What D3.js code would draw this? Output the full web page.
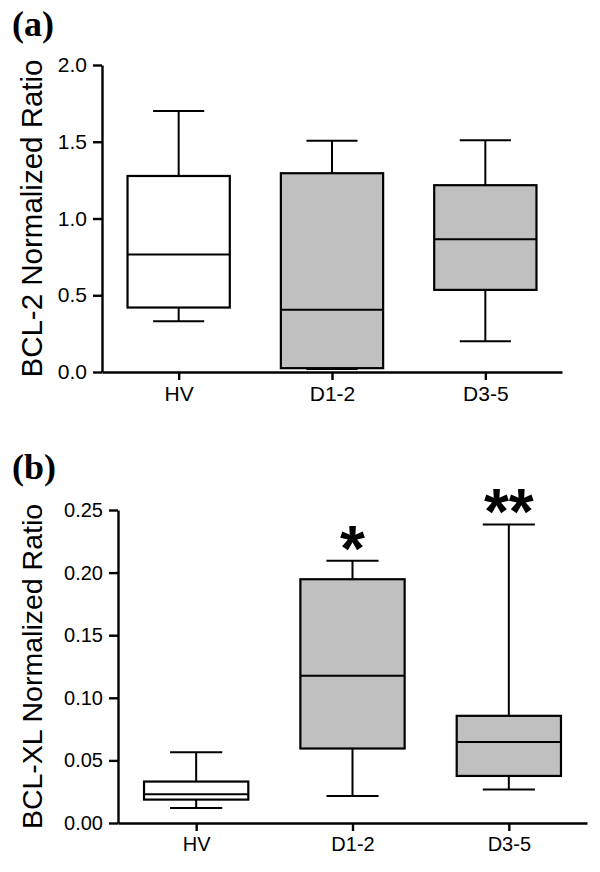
<!DOCTYPE html>
<html>
<head>
<meta charset="utf-8">
<script src="https://cdn.jsdelivr.net/npm/d3@7"></script>
<style>
  body { margin: 0; background: #fff; }
  svg text { font-family: "Liberation Sans", Arial, sans-serif; fill: #000; }
  .panel-label { font-family: "Liberation Serif", "Times New Roman", serif; font-weight: bold; }
</style>
</head>
<body>
<div id="chart-area"></div>
<script>
// groups on the x axis
var groups = ["HV", "D1-2", "D3-5"];
var boxFills = ["#ffffff", "#c0c0c0", "#c0c0c0"];

// panel (a) BCL-2
var bcl2Min    = [0.33, 0.02, 0.20];
var bcl2Q1     = [0.42, 0.025, 0.535];
var bcl2Median = [0.765, 0.405, 0.865];
var bcl2Q3     = [1.277, 1.295, 1.217];
var bcl2Max    = [1.70, 1.507, 1.51];
var bcl2Ticks  = [0, 0.5, 1.0, 1.5, 2.0];

// panel (b) BCL-XL
var bclxlMin    = [0.012, 0.0215, 0.0267];
var bclxlQ1     = [0.0187, 0.0595, 0.0376];
var bclxlMedian = [0.023, 0.1176, 0.0646];
var bclxlQ3     = [0.0331, 0.1947, 0.0856];
var bclxlMax    = [0.0566, 0.2094, 0.2384];
var bclxlTicks  = [0, 0.05, 0.10, 0.15, 0.20, 0.25];
var bclxlStars  = ["", "*", "**"];

var svg = d3.select("#chart-area")
    .append("svg")
    .attr("width", 600)
    .attr("height", 872);

function drawPanel(opt) {
    var g = svg.append("g");

    var y = d3.scaleLinear()
        .domain(opt.domain)
        .range([opt.bottom, opt.top]);

    var x = d3.scalePoint()
        .domain(groups)
        .range([opt.left, opt.right])
        .padding(0.5);

    var boxW = x.step() * 0.667;
    var capW = boxW / 2;

    var rows = groups.map(function(name, i){
        return { name: name, min: opt.min[i], q1: opt.q1[i], med: opt.med[i],
                 q3: opt.q3[i], max: opt.max[i], fill: boxFills[i],
                 star: opt.stars ? opt.stars[i] : "" };
    });

    // Y axis
    var yAxis = d3.axisLeft(y)
        .tickValues(opt.ticks)
        .tickFormat(d3.format(opt.fmt))
        .tickSize(9)
        .tickPadding(6)
        .tickSizeOuter(0);
    var ya = g.append("g")
        .attr("transform", "translate(" + opt.left + ",0)")
        .call(yAxis);
    ya.selectAll("text").style("font-size", opt.tickFont + "px");

    // X axis
    var xAxis = d3.axisBottom(x)
        .tickSize(8)
        .tickPadding(6)
        .tickSizeOuter(0);
    var xa = g.append("g")
        .attr("transform", "translate(0," + opt.bottom + ")")
        .call(xAxis);
    xa.selectAll("text").style("font-size", opt.tickFont + "px");

    g.selectAll(".domain, .tick line")
        .attr("stroke", "#000")
        .attr("stroke-width", 2.4);

    var box = g.selectAll(".box")
        .data(rows)
        .enter()
        .append("g")
        .attr("class", "box");

    // whisker stem
    box.append("line")
        .attr("x1", d => x(d.name))
        .attr("x2", d => x(d.name))
        .attr("y1", d => y(d.min))
        .attr("y2", d => y(d.max))
        .attr("stroke", "#000")
        .attr("stroke-width", 2);

    // caps
    ["min", "max"].forEach(function(k){
        box.append("line")
            .attr("x1", d => x(d.name) - capW / 2)
            .attr("x2", d => x(d.name) + capW / 2)
            .attr("y1", d => y(d[k]))
            .attr("y2", d => y(d[k]))
            .attr("stroke", "#000")
            .attr("stroke-width", 2);
    });

    box.append("rect")
        .attr("x", d => x(d.name) - boxW / 2)
        .attr("y", d => y(d.q3))
        .attr("width", boxW)
        .attr("height", d => y(d.q1) - y(d.q3))
        .attr("fill", d => d.fill)
        .attr("stroke", "#000")
        .attr("stroke-width", 2.2);

    box.append("line")
        .attr("x1", d => x(d.name) - boxW / 2)
        .attr("x2", d => x(d.name) + boxW / 2)
        .attr("y1", d => y(d.med))
        .attr("y2", d => y(d.med))
        .attr("stroke", "#000")
        .attr("stroke-width", 2);

    // significance stars
    box.append("text")
        .attr("x", d => x(d.name))
        .attr("y", d => y(d.max) - 21 + opt.starFont * 0.48)
        .attr("text-anchor", "middle")
        .style("font-size", opt.starFont + "px")
        .style("font-weight", "bold")
        .text(d => d.star);

    // y title
    g.append("text")
        .attr("transform", "translate(" + opt.titleX + "," + ((opt.top + opt.bottom) / 2) + ") rotate(-90)")
        .attr("text-anchor", "middle")
        .style("font-size", opt.titleFont + "px")
        .text(opt.title);

    // panel label
    g.append("text")
        .attr("class", "panel-label")
        .attr("x", 12)
        .attr("y", opt.labelY)
        .style("font-size", "36px")
        .text(opt.label);
}

drawPanel({
    domain: [0, 2], ticks: bcl2Ticks, fmt: ".1f",
    top: 65, bottom: 372, left: 102, right: 562,
    min: bcl2Min, q1: bcl2Q1, med: bcl2Median, q3: bcl2Q3, max: bcl2Max,
    tickFont: 21, titleFont: 29.5, titleX: 42,
    title: "BCL-2 Normalized Ratio", label: "(a)", labelY: 36, starFont: 64
});

drawPanel({
    domain: [0, 0.25], ticks: bclxlTicks, fmt: ".2f",
    top: 510, bottom: 823, left: 118, right: 587,
    min: bclxlMin, q1: bclxlQ1, med: bclxlMedian, q3: bclxlQ3, max: bclxlMax,
    stars: bclxlStars,
    tickFont: 20, titleFont: 28.5, titleX: 42,
    title: "BCL-XL Normalized Ratio", label: "(b)", labelY: 479, starFont: 64
});
</script>
</body>
</html>
